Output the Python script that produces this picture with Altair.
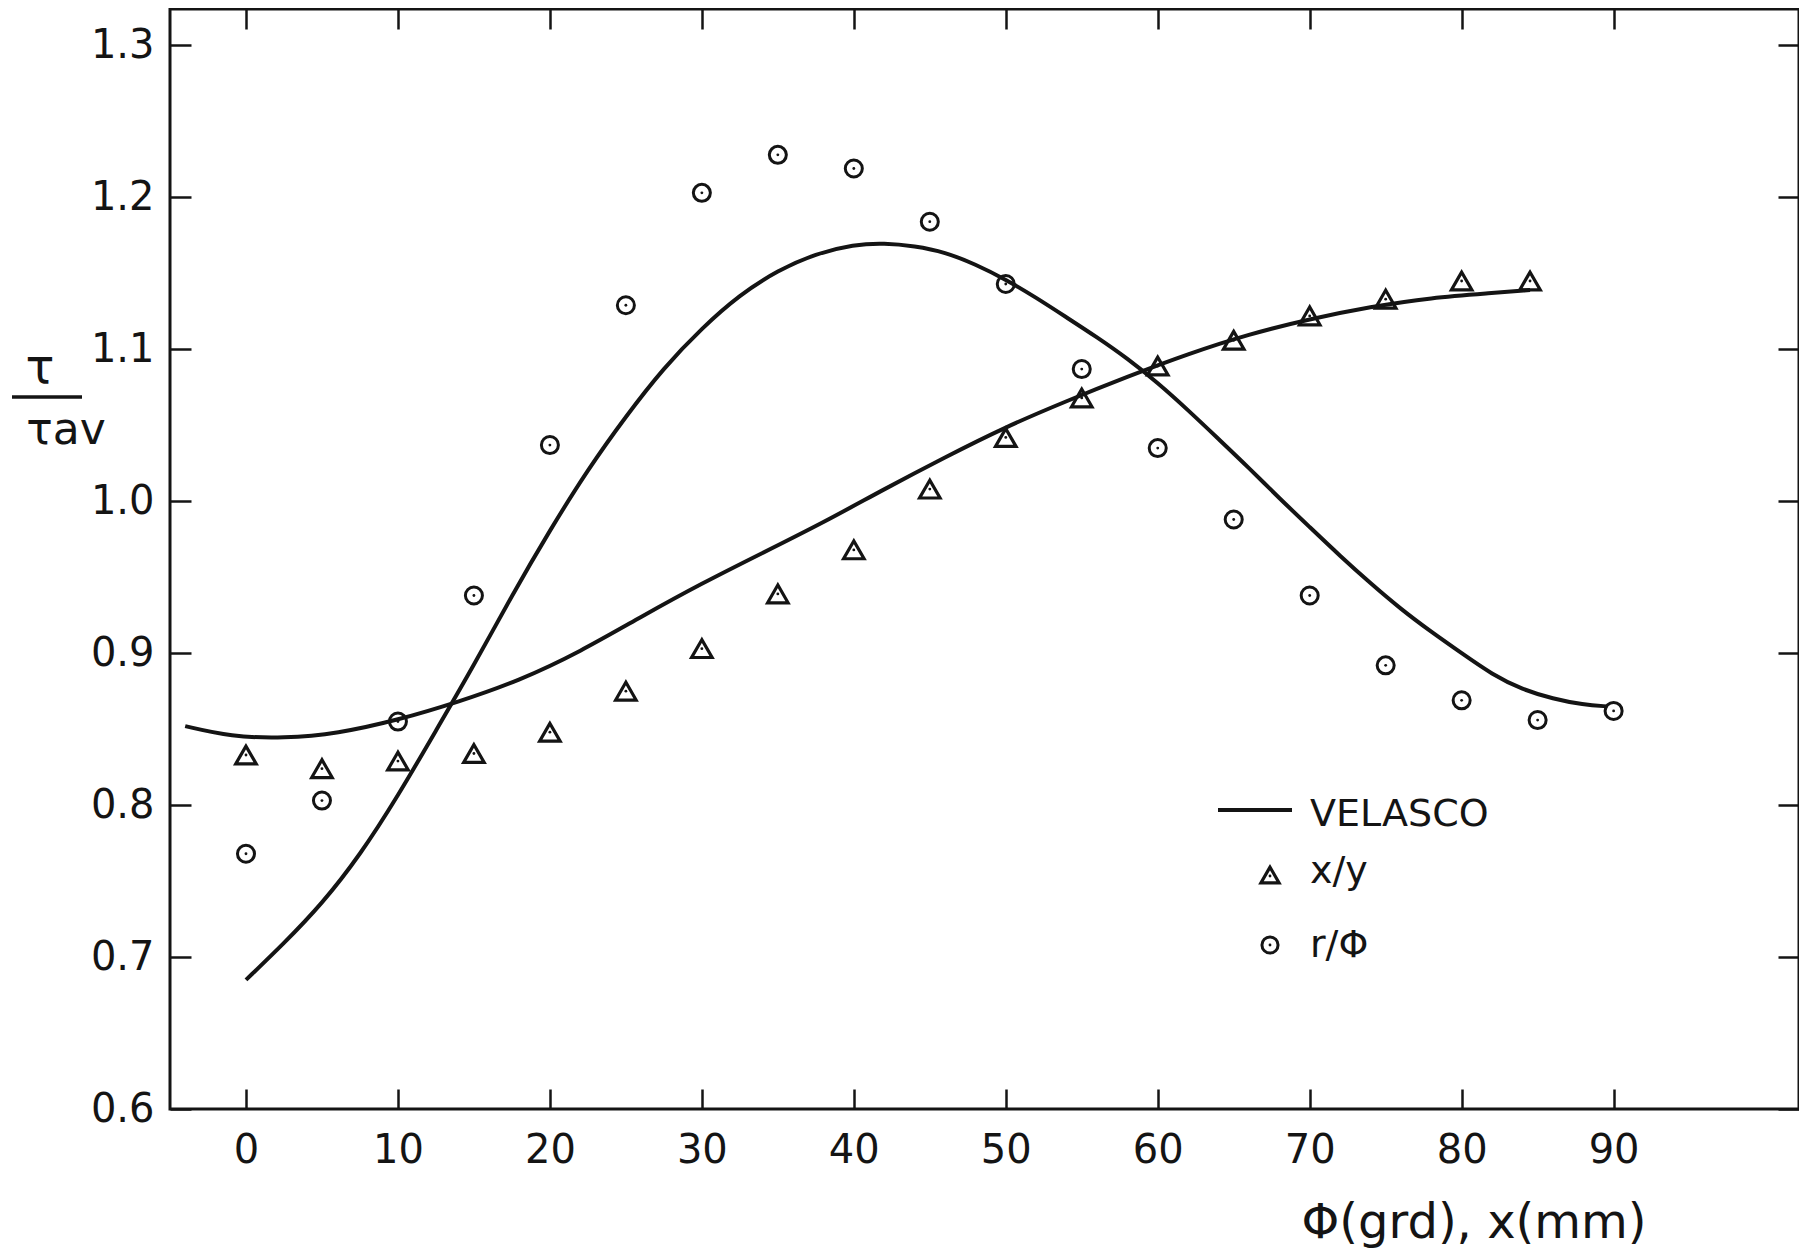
import altair as alt
import pandas as pd

# ---------------- data ----------------
# x/y measurements (triangles)
tri_x = [0, 5, 10, 15, 20, 25, 30, 35, 40, 45, 50, 55, 60, 65, 70, 75, 80, 84.5]
tri_y = [0.833, 0.824, 0.829, 0.834, 0.848, 0.875, 0.903, 0.939, 0.968, 1.008,
         1.042, 1.068, 1.089, 1.106, 1.122, 1.133, 1.145, 1.145]

# r/phi measurements (circles)
circ_x = [0, 5, 10, 15, 20, 25, 30, 35, 40, 45, 50, 55, 60, 65, 70, 75, 80, 85, 90]
circ_y = [0.768, 0.803, 0.855, 0.938, 1.037, 1.129, 1.203, 1.228, 1.219, 1.184,
          1.143, 1.087, 1.035, 0.988, 0.938, 0.892, 0.869, 0.856, 0.862]

# VELASCO curve for x/y (flat, then rising)
vel_a_x = [-4, -1, 2.5, 6, 10, 14, 18, 22, 26, 30, 34, 38, 42, 46, 50, 54, 58,
           62, 66, 70, 74, 78, 82, 84.5]
vel_a_y = [0.852, 0.845, 0.844, 0.847, 0.856, 0.868, 0.882, 0.901, 0.924, 0.946,
           0.966, 0.986, 1.008, 1.029, 1.049, 1.066, 1.082, 1.097, 1.110, 1.120,
           1.128, 1.134, 1.137, 1.139]

# VELASCO curve for r/phi (bell shaped)
vel_b_x = [0, 2.5, 5, 7.5, 10, 12.5, 15, 17.5, 20, 22.5, 25, 27.5, 30, 32.5, 35,
           37.5, 40, 42, 44, 46, 48, 50, 52, 54, 56, 58, 60, 62, 64, 66, 68, 70,
           72, 74, 76, 78, 80, 82, 84, 86, 88, 89.6]
vel_b_y = [0.685, 0.709, 0.735, 0.767, 0.806, 0.849, 0.892, 0.938, 0.981, 1.021,
           1.056, 1.088, 1.114, 1.136, 1.152, 1.163, 1.169, 1.170, 1.168, 1.164,
           1.156, 1.146, 1.134, 1.121, 1.108, 1.094, 1.078, 1.060, 1.041, 1.022,
           1.002, 0.983, 0.964, 0.946, 0.929, 0.914, 0.900, 0.886, 0.876, 0.870,
           0.866, 0.865]

x_ticks = [0, 10, 20, 30, 40, 50, 60, 70, 80, 90]
y_ticks = [0.6, 0.7, 0.8, 0.9, 1.0, 1.1, 1.2, 1.3]
legend_labels = ["VELASCO", "x/y", "r/Φ"]
x_title = "Φ(grd), x(mm)"

X_DOMAIN = [-5, 102.2]
Y_DOMAIN = [0.6, 1.324]

# ---------------- styling ----------------
INK = "#141414"
FONT = "DejaVu Sans"
W, H = 1629, 1100

xscale = alt.Scale(domain=X_DOMAIN, nice=False, zero=False)
yscale = alt.Scale(domain=Y_DOMAIN, nice=False, zero=False)

curves = pd.concat([
    pd.DataFrame({"phi": vel_a_x, "tau": vel_a_y, "series": "a"}),
    pd.DataFrame({"phi": vel_b_x, "tau": vel_b_y, "series": "b"}),
])
tri = pd.DataFrame({"phi": tri_x, "tau": tri_y})
circ = pd.DataFrame({"phi": circ_x, "tau": circ_y})
dots = pd.concat([tri, circ])

label_x_axis = alt.Axis(orient="bottom", values=x_ticks, ticks=False, tickSize=0,
                        domain=False, grid=False, labelFont=FONT, labelFontSize=40,
                        labelColor=INK, labelPadding=21, title=x_title,
                        titleFont=FONT, titleFontSize=48, titleFontWeight="normal",
                        titleColor=INK, titleX=1476, titleY=128, titleAlign="right",
                        titleBaseline="alphabetic")
label_y_axis = alt.Axis(orient="left", values=y_ticks, format=".1f", ticks=False,
                        tickSize=0, domain=False, grid=False, labelFont=FONT,
                        labelFontSize=40, labelColor=INK, labelPadding=16, title=None)

def tick_axis(orient, values, size):
    return alt.Axis(orient=orient, offset=-size, values=values, tickSize=size,
                    tickWidth=2.5, tickColor=INK, labels=False, domain=False,
                    grid=False, title=None)

lines = alt.Chart(curves).mark_line(interpolate="basis", stroke=INK,
                                    strokeWidth=4).encode(
    x=alt.X("phi:Q", scale=xscale, axis=label_x_axis),
    y=alt.Y("tau:Q", scale=yscale, axis=label_y_axis),
    detail="series:N",
)

triangles = alt.Chart(tri).mark_point(shape="triangle-up", size=420, stroke=INK,
                                      strokeWidth=3.2, filled=False, opacity=1).encode(
    x=alt.X("phi:Q", scale=xscale, axis=tick_axis("bottom", x_ticks, 20)),
    y=alt.Y("tau:Q", scale=yscale, axis=tick_axis("left", y_ticks, 21)),
)

circles = alt.Chart(circ).mark_point(shape="circle", size=290, stroke=INK,
                                     strokeWidth=3, filled=False, opacity=1).encode(
    x=alt.X("phi:Q", scale=xscale, axis=tick_axis("top", x_ticks, 20)),
    y=alt.Y("tau:Q", scale=yscale, axis=tick_axis("right", y_ticks, 21)),
)

centre_dots = alt.Chart(dots).mark_circle(size=8, color=INK, opacity=1).encode(
    x=alt.X("phi:Q", scale=xscale, axis=None),
    y=alt.Y("tau:Q", scale=yscale, axis=None),
)

one = alt.Data(values=[{}])

# y axis title as a fraction  tau / tau_av
tau_top = alt.Chart(one).mark_text(text="τ", font=FONT, fontSize=48, color=INK,
                                   align="center", baseline="alphabetic").encode(
    x=alt.value(-130), y=alt.value(374))
tau_bar = alt.Chart(one).mark_rule(stroke=INK, strokeWidth=3.5).encode(
    x=alt.value(-158), x2=alt.value(-88), y=alt.value(388))
tau_bot = alt.Chart(one).mark_text(text="τav", font=FONT, fontSize=44, color=INK,
                                   align="center", baseline="alphabetic").encode(
    x=alt.value(-104), y=alt.value(435))

# legend
leg_line = alt.Chart(one).mark_rule(stroke=INK, strokeWidth=4).encode(
    x=alt.value(1048), x2=alt.value(1122), y=alt.value(801))
leg_tri = alt.Chart(one).mark_point(shape="triangle-up", size=330, stroke=INK,
                                    strokeWidth=3.2, filled=False, opacity=1).encode(
    x=alt.value(1100), y=alt.value(866))
leg_circ = alt.Chart(one).mark_point(shape="circle", size=260, stroke=INK,
                                     strokeWidth=3, filled=False, opacity=1).encode(
    x=alt.value(1100), y=alt.value(936))
leg_dot1 = alt.Chart(one).mark_circle(size=8, color=INK, opacity=1).encode(
    x=alt.value(1100), y=alt.value(867))
leg_dot2 = alt.Chart(one).mark_circle(size=8, color=INK, opacity=1).encode(
    x=alt.value(1100), y=alt.value(936))

def leg_text(label, ypos):
    return alt.Chart(one).mark_text(text=label, font=FONT, fontSize=38, color=INK,
                                    align="left", baseline="alphabetic").encode(
        x=alt.value(1140), y=alt.value(ypos))

chart = alt.layer(
    lines, triangles, circles, centre_dots,
    tau_top, tau_bar, tau_bot,
    leg_line, leg_tri, leg_circ, leg_dot1, leg_dot2,
    leg_text(legend_labels[0], 817),
    leg_text(legend_labels[1], 874),
    leg_text(legend_labels[2], 948),
).resolve_axis(x="independent", y="independent").properties(
    width=W, height=H,
    autosize=alt.AutoSizeParams(type="none"),
    padding={"left": 162, "top": 1, "right": 0, "bottom": 139},
    background="white",
).configure_view(stroke=INK, strokeWidth=3)

chart.save("out.html", embed_options={"renderer": "svg", "actions": False})
